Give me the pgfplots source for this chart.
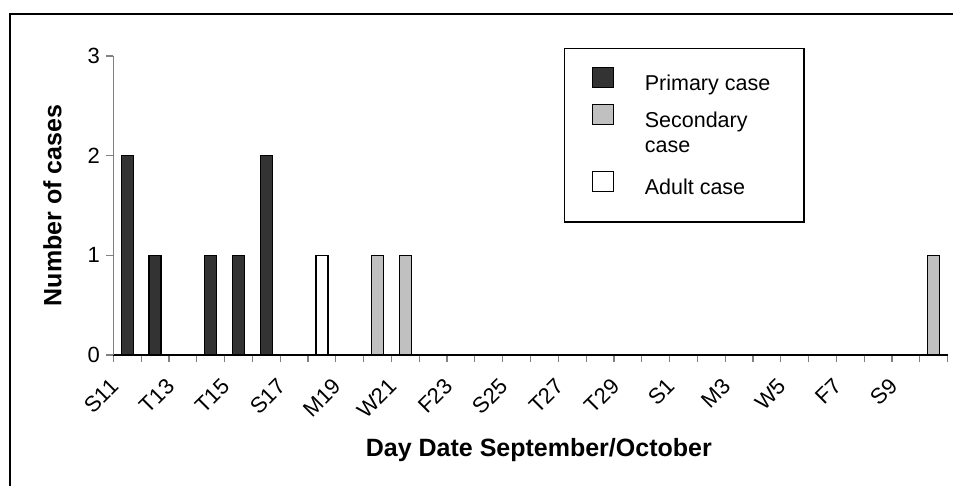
\documentclass[border=0pt]{standalone}
\usepackage{fontspec}
\setmainfont{Liberation Sans}
\usepackage{pgfplots}
\pgfplotsset{compat=1.18}
\definecolor{primary}{HTML}{333333}
\definecolor{secondary}{HTML}{C0C0C0}
\definecolor{axisgray}{HTML}{808080}

% legend patch: 21 x 20 square sitting just above the text baseline
\newcommand{\casepatch}[1]{%
  \draw[fill=#1, draw=black, line width=1.2pt] (0pt,3pt) rectangle (21pt,23pt);}

\begin{document}
\begin{tikzpicture}
% page = 953 x 485, axis origin sits at (113.3, 355) from the top left
\useasboundingbox (-113.3pt,-130pt) rectangle (839.7pt,355pt);
\draw[line width=1.5pt] (-103.3pt,-131pt) -- (-103.3pt,341pt) -- (841pt,341pt);
\begin{axis}[
    scale only axis,
    width=834.4pt, height=299pt,
    xmin=0, xmax=30, ymin=0, ymax=3,
    axis x line*=bottom, axis y line*=left,
    x axis line style={-, black, line width=1.2pt},
    y axis line style={-, axisgray, line width=1.2pt},
    tick align=outside,
    ybar, bar width=12pt, bar shift=0pt,
    ytick={0,1,2,3},
    major tick length=7pt,
    minor tick length=7pt,
    ytick style={axisgray, line width=1.2pt},
    xtick={0.5,2.5,...,28.5},
    xticklabels={S11,T13,T15,S17,M19,W21,F23,S25,T27,T29,S1,M3,W5,F7,S9},
    major x tick style={draw=none},
    minor xtick={0,1,...,30},
    minor x tick style={axisgray, line width=1.2pt},
    /pgf/number format/assume math mode=true,
    tick label style={font=\fontsize{22}{26}\selectfont},
    xticklabel style={xshift=-18pt, yshift=-10pt, rotate=45, anchor=north east},
    yticklabel style={xshift=-3pt},
    every axis y label/.style={at={(axis description cs:-0.073,0.5)}, rotate=90, anchor=center},
    every axis x label/.style={at={(axis description cs:0.51,-0.318)}, anchor=center},
    label style={font=\fontsize{25}{29}\selectfont\bfseries},
    ylabel={Number of cases},
    xlabel={Day Date September/October},
    legend style={at={(0.540,1.027)}, anchor=north west, draw=black, line width=1.5pt,
        font=\fontsize{21.5}{25}\selectfont, inner xsep=27pt, inner ysep=18pt,
        row sep=0pt, column sep=31pt,
        nodes={inner sep=0pt, text height={}, text depth={}},
        cells={anchor=base west}},
]
\addplot[fill=primary, draw=black, line width=1.2pt,
    legend image code/.code={\casepatch{primary}}]
    coordinates {(0.5,2) (1.5,1) (3.5,1) (4.5,1) (5.5,2)};
\addlegendentry{\rule[-6pt]{0pt}{16pt}\makebox[132pt][l]{Primary case}}
\addplot[fill=secondary, draw=black, line width=1.2pt,
    legend image code/.code={\casepatch{secondary}}]
    coordinates {(9.5,1) (10.5,1) (29.5,1)};
\addlegendentry{\begin{tabular}[t]{@{}l@{}}\rule{0pt}{31pt}Secondary\\case\end{tabular}}
\addplot[fill=white, draw=black, line width=1.2pt,
    legend image code/.code={\casepatch{white}}]
    coordinates {(7.5,1)};
\addlegendentry{\rule[-9pt]{0pt}{44pt}Adult case}
\end{axis}
\end{tikzpicture}
\end{document}
